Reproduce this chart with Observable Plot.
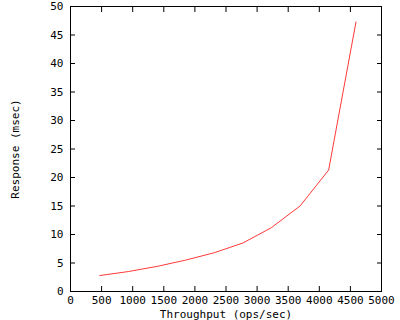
<!DOCTYPE html>
<html>
<head>
<meta charset="utf-8">
<script src="https://cdn.jsdelivr.net/npm/d3@7"></script>
<script src="https://cdn.jsdelivr.net/npm/@observablehq/plot@0.6"></script>
<style>
  html, body { margin: 0; padding: 0; background: #fff; }
</style>
</head>
<body>
<div id="chart"></div>
<script>
const xTicks = [0, 500, 1000, 1500, 2000, 2500, 3000, 3500, 4000, 4500, 5000];
const yTicks = [0, 5, 10, 15, 20, 25, 30, 35, 40, 45, 50];
const throughput = [470, 930, 1390, 1850, 2310, 2770, 3230, 3690, 4150, 4590];
const response = [2.8, 3.5, 4.4, 5.5, 6.8, 8.5, 11.2, 15.0, 21.3, 47.3];

const data = throughput.map((t, i) => ({x: t, y: response[i]}));

const chart = Plot.plot({
  width: 400,
  height: 320,
  marginLeft: 70,
  marginRight: 19,
  marginTop: 6,
  marginBottom: 29,
  style: {fontFamily: "'DejaVu Sans Mono', monospace", fontSize: "11px", color: "black", background: "white"},
  x: {domain: [0, 5000]},
  y: {domain: [0, 50]},
  marks: [
    Plot.axisX(xTicks, {anchor: "bottom", tickSize: -5, fill: "none"}),
    Plot.axisX(xTicks, {anchor: "top", tickSize: -5, fill: "none"}),
    Plot.axisY(yTicks, {anchor: "left", tickSize: -5, fill: "none"}),
    Plot.axisY(yTicks, {anchor: "right", tickSize: -5, fill: "none"}),
    Plot.axisX(xTicks, {anchor: "bottom", tickSize: 0, tickPadding: 5, tickFormat: d3.format("d"), label: "Throughput (ops/sec)", labelAnchor: "center", labelArrow: "none", labelOffset: 26}),
    Plot.axisY(yTicks, {anchor: "left", tickSize: 0, tickPadding: 7, tickFormat: d3.format("d"), label: "Response (msec)", labelAnchor: "center", labelArrow: "none", labelOffset: 59}),
    Plot.frame({stroke: "black"}),
    Plot.line(data, {x: "x", y: "y", stroke: "#ff3a3a", strokeWidth: 1})
  ]
});
document.getElementById("chart").appendChild(chart);
</script>
</body>
</html>
